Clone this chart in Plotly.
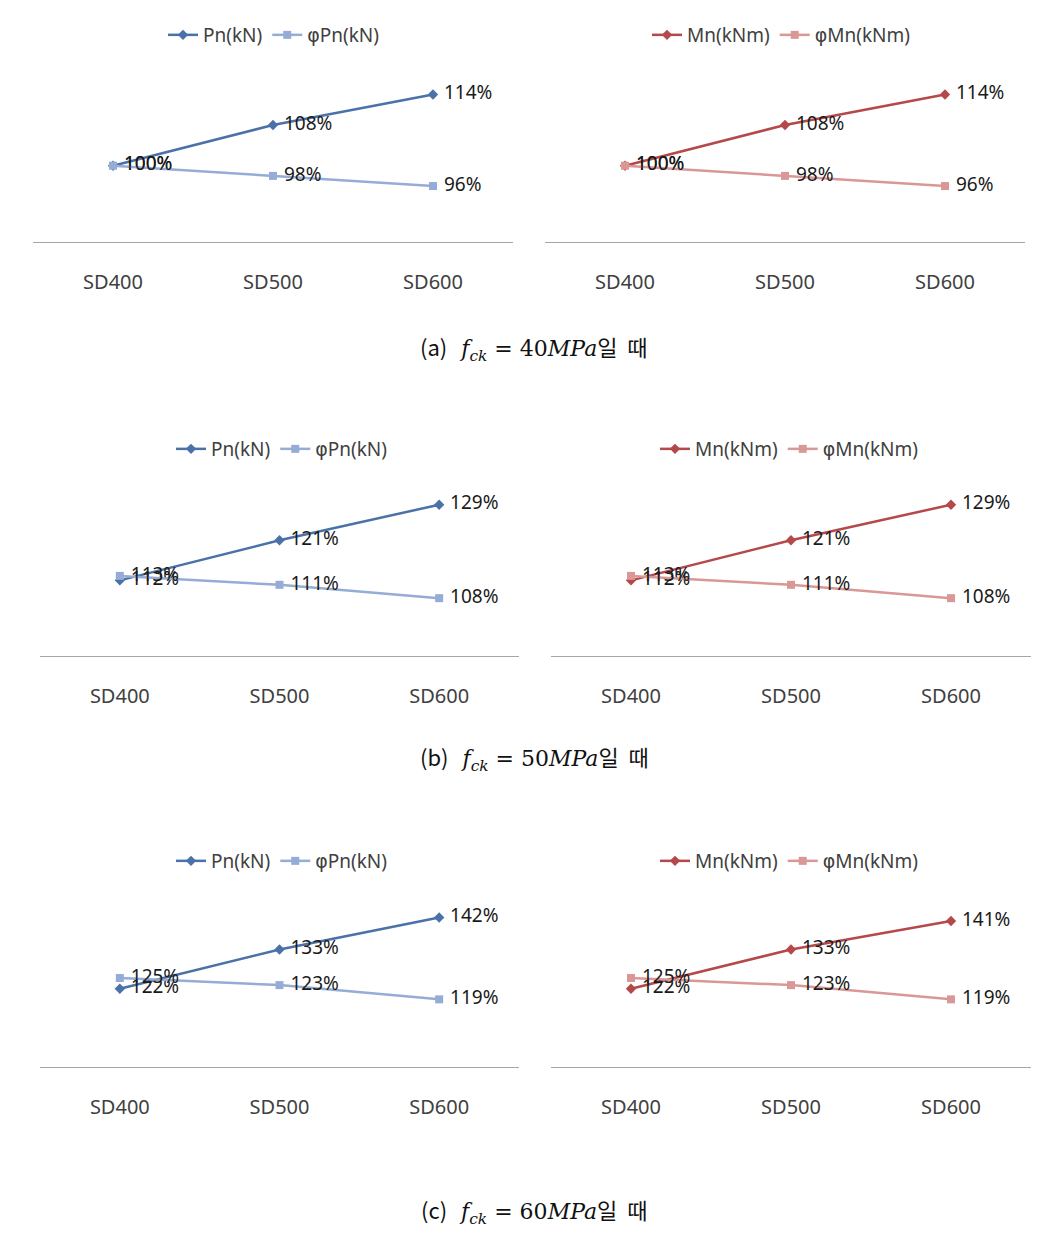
import plotly.graph_objects as go

categories = ["SD400", "SD500", "SD600"]

# (a) fck = 40MPa
pn_a = [100, 108, 114]
phipn_a = [100, 98, 96]
mn_a = [100, 108, 114]
phimn_a = [100, 98, 96]
# (b) fck = 50MPa
pn_b = [112, 121, 129]
phipn_b = [113, 111, 108]
mn_b = [112, 121, 129]
phimn_b = [113, 111, 108]
# (c) fck = 60MPa
pn_c = [122, 133, 142]
phipn_c = [125, 123, 119]
mn_c = [122, 133, 141]
phimn_c = [125, 123, 119]

captions = ["(a)", "(b)", "(c)"]
fck_values = ["40", "50", "60"]

W, H = 1045, 1233
OFF = 8  # page body offset
BLUE = "#4a72a8"
LBLUE = "#94acd6"
RED = "#b5484a"
LRED = "#d99896"
TXT = "#404040"
FONT = "Noto Sans, Noto Sans CJK KR"
PHI = "<span style='font-family:DejaVu Sans'>φ</span>"

fig = go.Figure()

def px_x(p):
    return (p - OFF) / W

def px_y(p):
    return 1 - (p - OFF) / H

panels = [
    dict(lx=(33, 513), rx=(545, 1025), y=(64, 242), yr=[85, 120], leg=35,
         legx=(163, 647), cap=347, data=(pn_a, phipn_a, mn_a, phimn_a)),
    dict(lx=(40, 519), rx=(551, 1031), y=(478, 656), yr=[95, 135], leg=449,
         legx=(171, 655), cap=757, data=(pn_b, phipn_b, mn_b, phimn_b)),
    dict(lx=(40, 519), rx=(551, 1031), y=(889, 1067), yr=[100, 150], leg=861,
         legx=(171, 655), cap=1210, data=(pn_c, phipn_c, mn_c, phimn_c)),
]

layout = {}
annotations = []
ax = 0
legn = 0
for pi, p in enumerate(panels):
    pn, phipn, mn, phimn = p["data"]
    sides = [
        (p["lx"], [("Pn(kN)", pn, BLUE, "diamond", 8), (PHI + "Pn(kN)", phipn, LBLUE, "square", 8)], p["legx"][0]),
        (p["rx"], [("Mn(kNm)", mn, RED, "diamond", 8), (PHI + "Mn(kNm)", phimn, LRED, "square", 8)], p["legx"][1]),
    ]
    for (x0, x1), series, legx in sides:
        ax += 1
        legn += 1
        xa = "x" if ax == 1 else f"x{ax}"
        ya = "y" if ax == 1 else f"y{ax}"
        lg = "legend" if legn == 1 else f"legend{legn}"
        for name, vals, color, sym, ms in series:
            fig.add_trace(go.Scatter(
                x=categories, y=vals, name=name, mode="lines+markers+text",
                text=[f" {v}%" for v in vals], textposition="middle right",
                textfont=dict(size=19, color="#1a1a1a", family=FONT),
                line=dict(color=color, width=2.5),
                marker=dict(symbol=sym, size=ms, color=color),
                xaxis=xa, yaxis=ya, legend=lg, cliponaxis=False,
            ))
        xkey = "xaxis" if ax == 1 else f"xaxis{ax}"
        ykey = "yaxis" if ax == 1 else f"yaxis{ax}"
        layout[xkey] = dict(
            domain=[px_x(x0), px_x(x1)], anchor=ya, type="category",
            range=[-0.5, 2.5], showline=True, linecolor="#a6a6a6", linewidth=1.2,
            showgrid=False, zeroline=False, ticks="", ticklabelstandoff=22,
            tickfont=dict(size=20, color=TXT, family=FONT),
        )
        layout[ykey] = dict(
            domain=[px_y(p["y"][1]), px_y(p["y"][0])], anchor=xa,
            range=p["yr"], visible=False, showgrid=False, zeroline=False,
        )
        layout[lg] = dict(
            x=px_x(legx), y=px_y(p["leg"]), xanchor="left", yanchor="middle",
            orientation="h", font=dict(size=19, color=TXT, family=FONT),
            bgcolor="rgba(0,0,0,0)", itemwidth=30, tracegroupgap=0,
        )
    annotations.append(dict(
        xref="paper", yref="paper", x=px_x(534), y=px_y(p["cap"]),
        xanchor="center", yanchor="middle", showarrow=False,
        text=(f"<span style='font-family:Noto Sans CJK KR'>{captions[pi]}</span>  "
              f"<i>f</i><sub><i>ck</i></sub> = {fck_values[pi]}<i>MPa</i>"
              f"<span style='font-family:Noto Sans CJK KR'>일  때</span>"),
        font=dict(size=22, color="#111111", family="DejaVu Serif"),
    ))

fig.update_layout(
    width=W, height=H, margin=dict(l=0, r=0, t=0, b=0),
    paper_bgcolor="white", plot_bgcolor="white",
    annotations=annotations, **layout,
)

fig.write_html("out.html")
